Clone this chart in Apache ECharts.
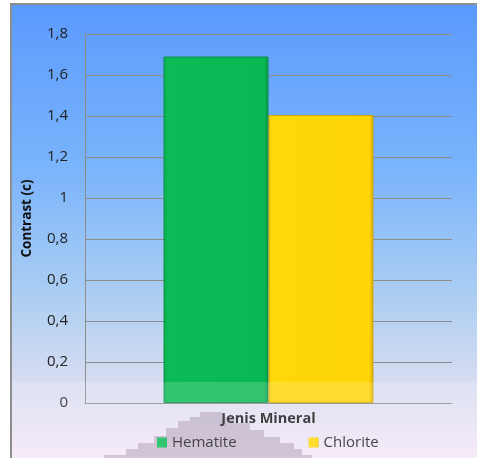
<!DOCTYPE html>
<html>
<head>
<meta charset="utf-8">
<script src="https://cdn.jsdelivr.net/npm/echarts@6/dist/echarts.min.js"></script>
<style>
  html, body { margin: 0; padding: 0; background: #ffffff; }
  #chart { width: 477px; height: 458px; }
</style>
</head>
<body>
<div id="chart"></div>
<script>
// Contrast values per mineral
const categories = ['Jenis Mineral'];
const seriesNames = ['Hematite', 'Chlorite'];
const hematiteValues = [1.69];
const chloriteValues = [1.405];
const yTicks = { min: 0, max: 1.8, interval: 0.2 };

const FONT = '"Open Sans", "Liberation Sans", sans-serif';

function fmt(v) {
  return String(Math.round(v * 10) / 10).replace('.', ',');
}

const chart = echarts.init(document.getElementById('chart'), null, { renderer: 'canvas' });

chart.setOption({
  backgroundColor: '#ffffff',
  animation: false,
  textStyle: { fontFamily: FONT },
  graphic: [
    {
      type: 'rect', z: -20, silent: true,
      shape: { x: 11, y: 4, width: 480, height: 470 },
      style: {
        fill: new echarts.graphic.LinearGradient(0, 0, 0, 1, [
          { offset: 0, color: '#5a9afd' },
          { offset: 0.35, color: '#7ab4fc' },
          { offset: 0.6, color: '#a8ccf3' },
          { offset: 0.8, color: '#d6dcf1' },
          { offset: 1, color: '#fbe9f8' }
        ]),
        stroke: '#8e8e8e', lineWidth: 2
      }
    },
    {
      // stepped shading beneath the legend
      type: 'polygon', z: -10, silent: true,
      shape: {
        points: [
          [104, 462], [104, 455], [126, 455], [126, 449], [138, 449], [138, 443],
          [154, 443], [154, 436], [166, 436], [166, 428], [178, 428], [178, 421],
          [190, 421], [190, 417], [200, 417], [200, 412], [222, 412], [222, 417],
          [234, 417], [234, 423], [250, 423], [250, 430], [264, 430], [264, 437],
          [280, 437], [280, 443], [294, 443], [294, 449], [302, 449], [302, 455],
          [312, 455], [312, 462]
        ]
      },
      style: { fill: 'rgba(150,130,155,0.45)' }
    },
    {
      // pale band across the lower part of the plot
      type: 'rect', z: 100, silent: true,
      shape: { x: 12, y: 382, width: 470, height: 80 },
      style: { fill: 'rgba(255,255,255,0.16)' }
    }
  ],
  grid: { left: 85, right: 25, top: 34, bottom: 55, containLabel: false },
  legend: {
    data: seriesNames,
    left: 152, top: 430,
    icon: 'rect', itemWidth: 10, itemHeight: 10, itemGap: 72,
    itemStyle: { borderWidth: 0 },
    textStyle: { fontFamily: FONT, fontSize: 15, color: '#222' }
  },
  xAxis: {
    type: 'category',
    data: categories,
    axisLine: { show: true, lineStyle: { color: '#8c8c8c', width: 1 } },
    axisTick: { show: false },
    axisLabel: { fontFamily: FONT, fontSize: 14.5, fontWeight: 'bold', color: '#1a1a1a', margin: 8 }
  },
  yAxis: {
    type: 'value',
    min: yTicks.min, max: yTicks.max, interval: yTicks.interval,
    name: 'Contrast (c)',
    nameLocation: 'middle',
    nameGap: 51,
    nameTextStyle: { fontFamily: FONT, fontSize: 13.5, fontWeight: 'bold', color: '#111' },
    axisLine: { show: true, lineStyle: { color: '#8c8c8c', width: 1 } },
    axisTick: { show: false },
    axisLabel: { fontFamily: FONT, fontSize: 15, color: '#222', margin: 17, formatter: fmt },
    splitLine: { show: true, lineStyle: { color: '#8c8c8c', width: 1 } }
  },
  series: [
    {
      name: seriesNames[0], type: 'bar', data: hematiteValues,
      barGap: '0%', barCategoryGap: '42.8%',
      itemStyle: {
        color: new echarts.graphic.LinearGradient(0, 0, 1, 0, [
          { offset: 0, color: '#0bae4e' },
          { offset: 0.04, color: '#0cbb55' },
          { offset: 0.96, color: '#0ab853' },
          { offset: 1, color: '#07944a' }
        ]),
        borderColor: '#0a8f46', borderWidth: 1
      }
    },
    {
      name: seriesNames[1], type: 'bar', data: chloriteValues,
      itemStyle: {
        color: new echarts.graphic.LinearGradient(0, 0, 1, 0, [
          { offset: 0, color: '#f5cf05' },
          { offset: 0.04, color: '#ffd808' },
          { offset: 0.96, color: '#ffd507' },
          { offset: 1, color: '#d8a800' }
        ]),
        borderColor: '#d0a500', borderWidth: 1
      }
    }
  ]
});
</script>
</body>
</html>
